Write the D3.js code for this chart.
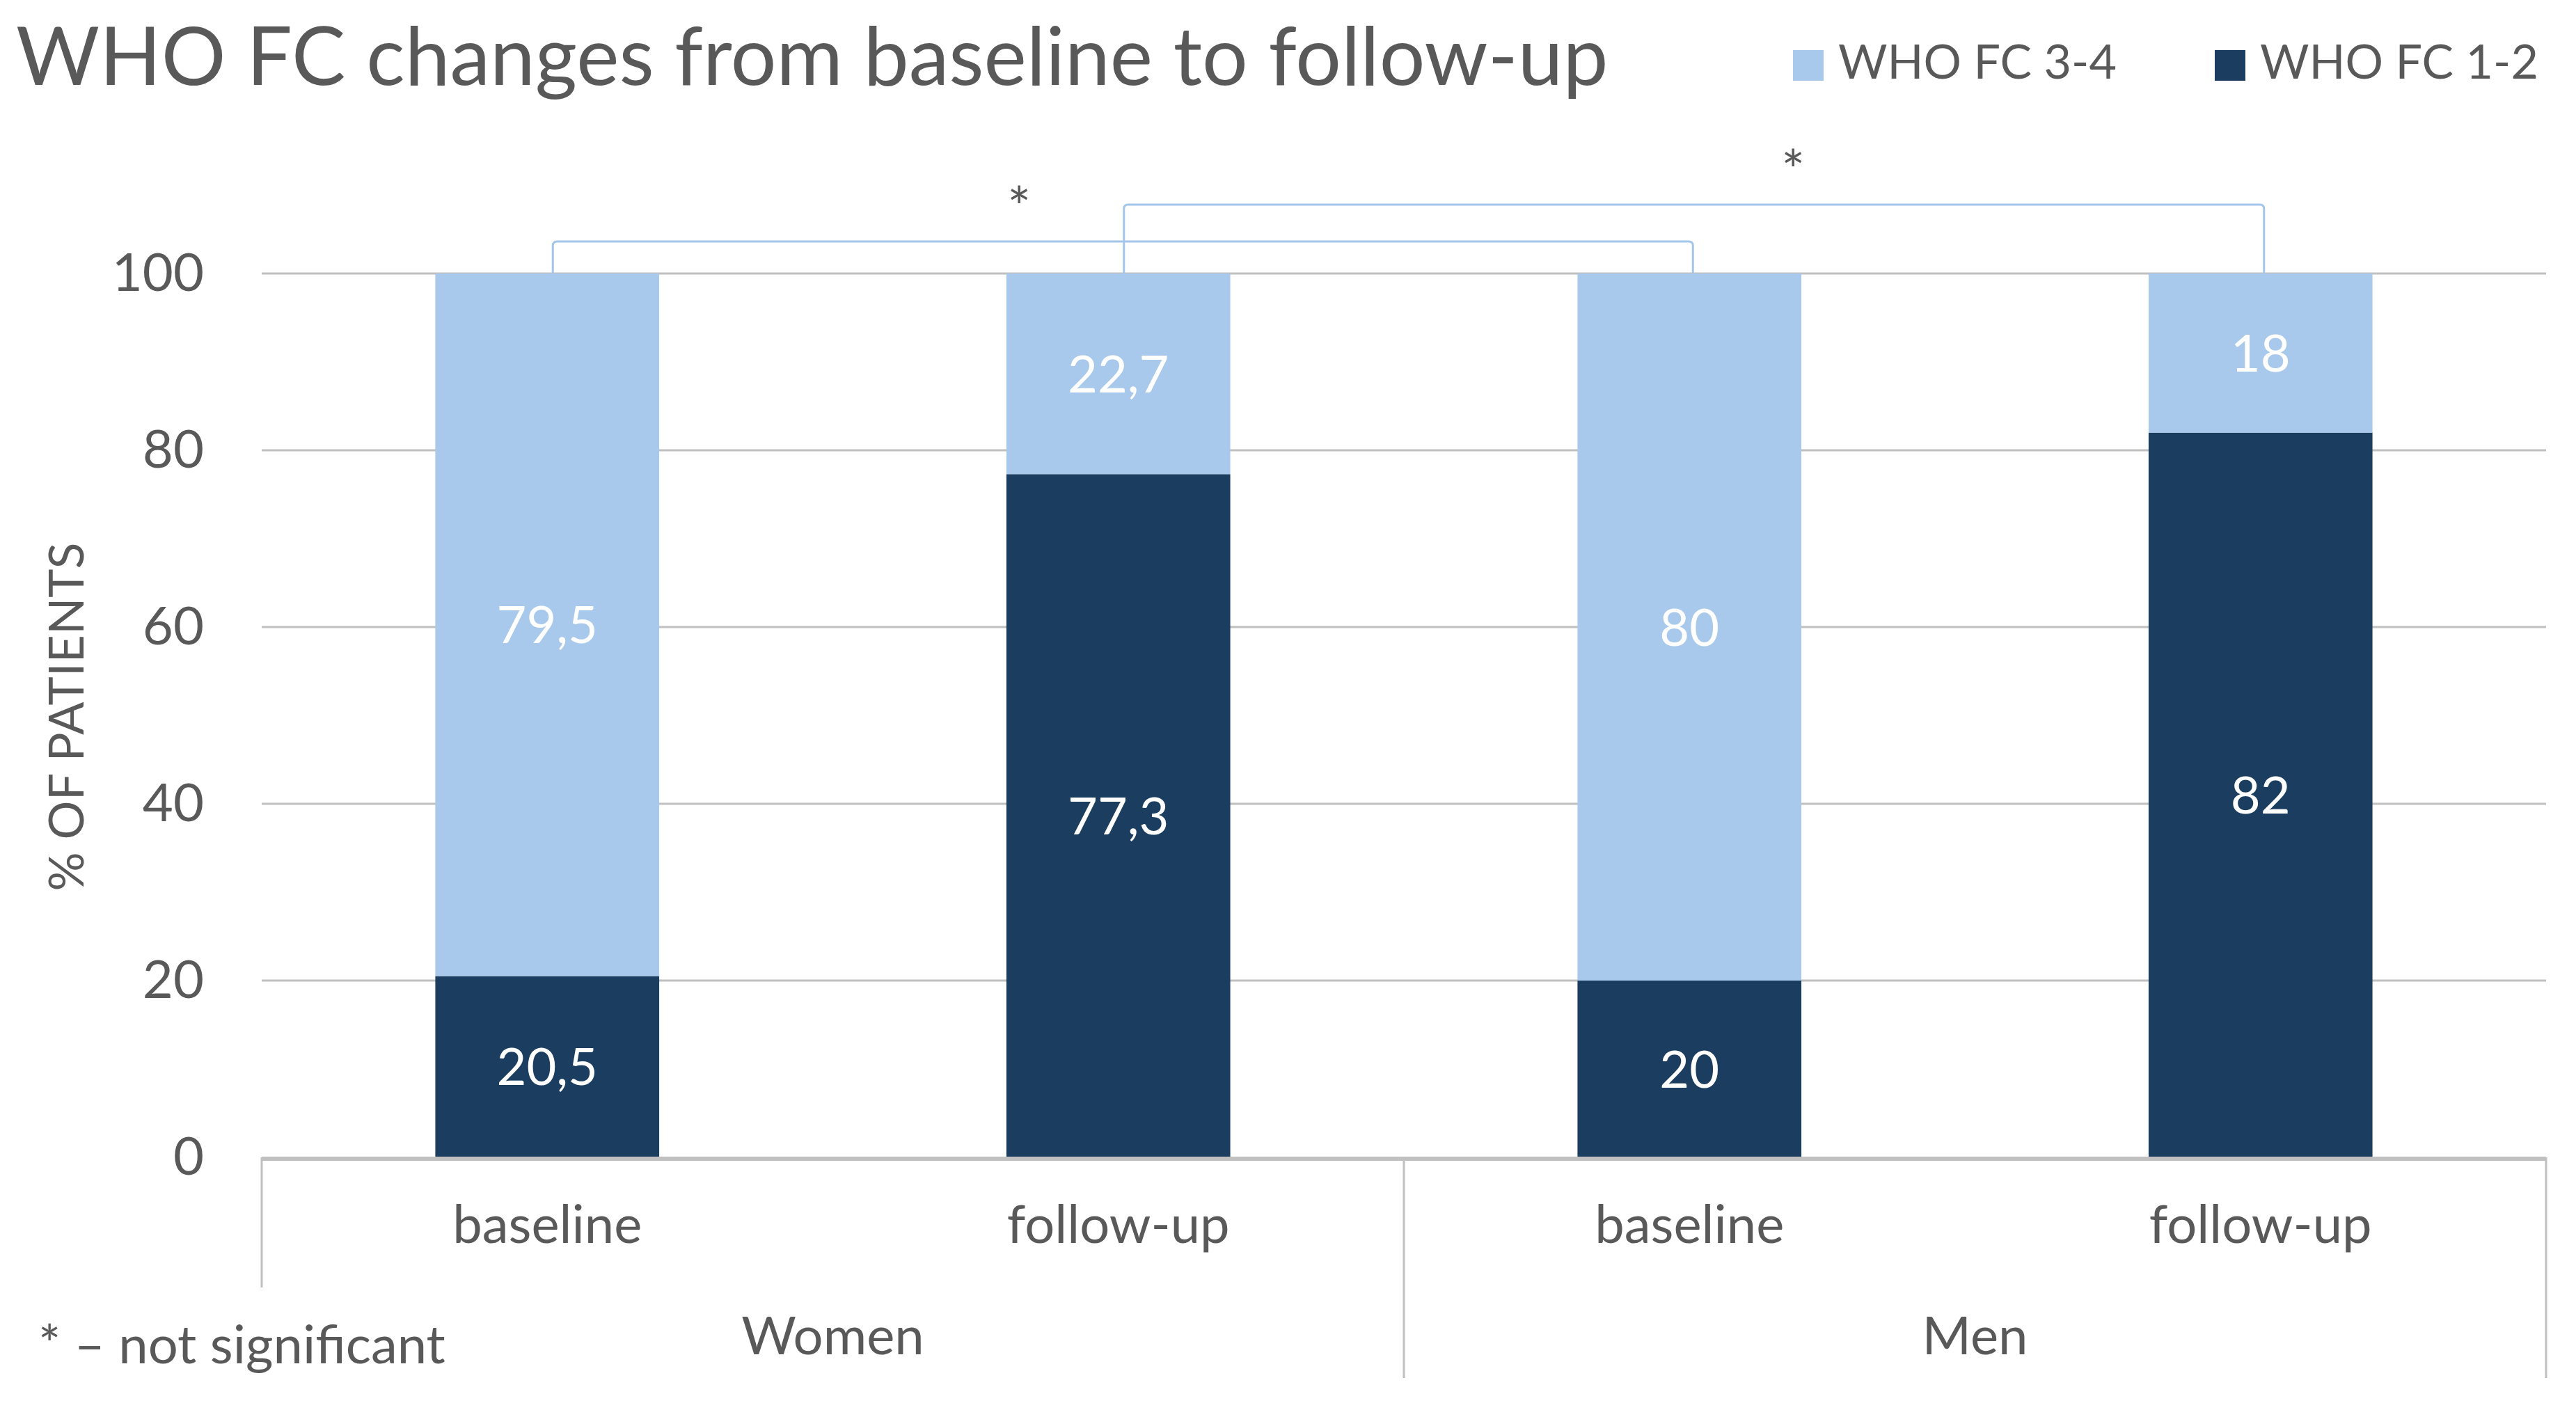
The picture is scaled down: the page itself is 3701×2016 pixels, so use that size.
<!DOCTYPE html>
<html>
<head>
<meta charset="utf-8">
<script src="https://cdn.jsdelivr.net/npm/d3@7"></script>
<style>
  html, body { margin: 0; padding: 0; background: #fff; }
  svg text { font-family: Lato, "Open Sans", sans-serif; }
</style>
</head>
<body>
<svg id="chart"></svg>
<script>
// chart values
const groups = ["Women", "Women", "Men", "Men"];
const phases = ["baseline", "follow-up", "baseline", "follow-up"];
const fc12 = [20.5, 77.3, 20, 82];
const fc34 = [79.5, 22.7, 80, 18];
const yTicks = [0, 20, 40, 60, 80, 100];
const seriesNames = ["WHO FC 3-4", "WHO FC 1-2"];
// significance pairs (bar index from, to)
const sigPairs = [[0, 2], [1, 3]];
const sigLabels = ["*", "*"];

const W = 3701, H = 2016;
const light = "#A8C9EB";
const dark = "#1A3D60";
const grey = "#595959";
const gridColor = "#C0C0C0";

const svg = d3.select("#chart").attr("width", W).attr("height", H);

const plotLeft = 376, plotRight = 3658, plotTop = 393, plotBottom = 1663;
const keys = phases.map((p, i) => groups[i] + "|" + p);

let x = d3.scaleBand().domain(keys).range([plotLeft, plotRight])
  .paddingInner(0.608).paddingOuter(0.304);
let y = d3.scaleLinear().domain([0, 100]).range([plotBottom, plotTop]);

// pick a font size so a text spans about the same width as in the original
function fitSize(sel, width, maxSize) {
  const len = sel.attr("font-size", 100).node().getComputedTextLength();
  sel.attr("font-size", Math.min(maxSize, 100 * width / len));
}

// Title
const title = svg.append("text")
  .attr("x", 23).attr("y", 122)
  .attr("fill", grey)
  .text("WHO FC changes from baseline to follow-up");
fitSize(title, 2311, 116);

// Legend
const legendX = [2576, 3182];
const legendColors = [light, dark];
seriesNames.forEach((name, i) => {
  svg.append("rect")
    .attr("x", legendX[i]).attr("y", 72)
    .attr("width", 44).attr("height", 44)
    .attr("fill", legendColors[i]);
  const t = svg.append("text")
    .attr("x", legendX[i] + 65).attr("y", 113)
    .attr("fill", grey)
    .text(name);
  fitSize(t, 400, 80);
});

// Gridlines
svg.append("g")
  .selectAll("line")
  .data(yTicks.filter(d => d > 0))
  .join("line")
  .attr("x1", plotLeft).attr("x2", plotRight)
  .attr("y1", d => y(d)).attr("y2", d => y(d))
  .attr("stroke", gridColor)
  .attr("stroke-width", 3);

// Y axis labels
const yAxis = svg.append("g")
  .attr("transform", "translate(" + 293 + ",0)")
  .call(d3.axisLeft(y).tickValues(yTicks).tickSize(0).tickPadding(0));
yAxis.select(".domain").remove();
yAxis.selectAll("text")
  .attr("font-size", 76)
  .attr("fill", grey)
  .attr("font-family", "Lato");

// Y axis title
svg.append("text")
  .attr("transform", "translate(" + 120 + "," + 1030 + ") rotate(-90)")
  .attr("text-anchor", "middle")
  .attr("font-size", 70)
  .attr("fill", grey)
  .text("% OF PATIENTS");

// Bars
const bars = svg.append("g");
keys.forEach((k, i) => {
  bars.append("rect")
    .attr("x", x(k)).attr("width", x.bandwidth())
    .attr("y", y(fc12[i])).attr("height", y(0) - y(fc12[i]))
    .attr("fill", dark);
  bars.append("rect")
    .attr("x", x(k)).attr("width", x.bandwidth())
    .attr("y", y(fc12[i] + fc34[i])).attr("height", y(fc12[i]) - y(fc12[i] + fc34[i]))
    .attr("fill", light);
});

// Data labels
const fmt = v => String(v).replace(".", ",");
keys.forEach((k, i) => {
  const cx = x(k) + x.bandwidth() / 2;
  [[0, fc12[i]], [fc12[i], fc34[i]]].forEach(([base, v]) => {
    svg.append("text")
      .attr("x", cx).attr("y", (y(base) + y(base + v)) / 2)
      .attr("dy", "0.36em")
      .attr("text-anchor", "middle")
      .attr("font-size", 74)
      .attr("fill", "#fff")
      .text(fmt(v));
  });
});

// X axis line
svg.append("line")
  .attr("x1", plotLeft).attr("x2", plotRight)
  .attr("y1", plotBottom + 2).attr("y2", plotBottom + 2)
  .attr("stroke", gridColor).attr("stroke-width", 6);

// Group dividers
const step = x.step();
const groupNames = Array.from(new Set(groups));
const groupEdges = [plotLeft, plotLeft + step * 2, plotRight];
svg.append("line")
  .attr("x1", groupEdges[0]).attr("x2", groupEdges[0])
  .attr("y1", plotBottom).attr("y2", 1850)
  .attr("stroke", gridColor).attr("stroke-width", 3);
[groupEdges[1], groupEdges[2]].forEach(gx => {
  svg.append("line")
    .attr("x1", gx).attr("x2", gx)
    .attr("y1", plotBottom).attr("y2", 1980)
    .attr("stroke", gridColor).attr("stroke-width", 3);
});

// Category labels
keys.forEach((k, i) => {
  svg.append("text")
    .attr("x", x(k) + x.bandwidth() / 2).attr("y", 1786)
    .attr("text-anchor", "middle")
    .attr("font-size", 76)
    .attr("fill", grey)
    .text(phases[i]);
});
groupNames.forEach((g, i) => {
  svg.append("text")
    .attr("x", (groupEdges[i] + groupEdges[i + 1]) / 2).attr("y", 1946)
    .attr("text-anchor", "middle")
    .attr("font-size", 76)
    .attr("fill", grey)
    .text(g);
});

// Footnote
const note = svg.append("text")
  .attr("x", 55).attr("y", 1959)
  .attr("fill", grey)
  .text("* \u2013 not significant");
fitSize(note, 594, 76);

// Significance brackets
const bracketRise = [46, 99];
const starPos = [0.409, 0.587];
const bracketColor = "#A3C6EA";
sigPairs.forEach(([a, b], i) => {
  const x1 = x(keys[a]) + x.bandwidth() / 2 + 8;
  const x2 = x(keys[b]) + x.bandwidth() / 2 + 5;
  const yb = y(100);
  const yt = yb - bracketRise[i];
  const r = 6;
  const p = d3.path();
  p.moveTo(x1, yb);
  p.lineTo(x1, yt + r);
  p.quadraticCurveTo(x1, yt, x1 + r, yt);
  p.lineTo(x2 - r, yt);
  p.quadraticCurveTo(x2, yt, x2, yt + r);
  p.lineTo(x2, yb);
  svg.append("path")
    .attr("d", p.toString())
    .attr("fill", "none")
    .attr("stroke", bracketColor)
    .attr("stroke-width", 3);
  svg.append("text")
    .attr("x", x1 + (x2 - x1) * starPos[i])
    .attr("y", yt - 21)
    .attr("text-anchor", "middle")
    .attr("font-size", 80)
    .attr("fill", grey)
    .text(sigLabels[i]);
});
</script>
</body>
</html>
